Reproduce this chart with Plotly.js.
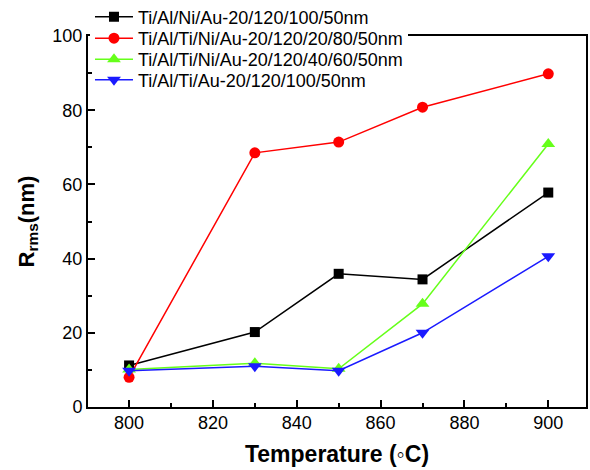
<!DOCTYPE html>
<html>
<head>
<meta charset="utf-8">
<script src="https://cdn.plot.ly/plotly-3.0.1.min.js"></script>
<style>html,body{margin:0;padding:0;background:#fff;}#chart{width:590px;height:470px;}</style>
</head>
<body>
<div id="chart"></div>
<script>
const temperatures = [800, 830, 850, 870, 900];
const seriesNames = [
  "Ti/Al/Ni/Au-20/120/100/50nm",
  "Ti/Al/Ti/Ni/Au-20/120/20/80/50nm",
  "Ti/Al/Ti/Ni/Au-20/120/40/60/50nm",
  "Ti/Al/Ti/Au-20/120/100/50nm"
];
const rmsTiAlNiAu = [11.2, 20.2, 35.9, 34.4, 57.8];
const rmsTiAlTiNiAu_20_80 = [8.0, 68.5, 71.4, 80.8, 89.8];
const rmsTiAlTiNiAu_40_60 = [10.1, 11.8, 10.3, 27.8, 70.9];
const rmsTiAlTiAu = [9.8, 11.0, 9.8, 20.0, 40.6];
const xTickVals = [800, 820, 840, 860, 880, 900];
const yTickVals = [0, 20, 40, 60, 80, 100];

const colors = ["#000000", "#ff0000", "#66ff1a", "#1a1aff"];
const symbols = ["square", "circle", "triangle-up", "triangle-down"];
const sizes = [10, 11, 12, 12];
const ys = [rmsTiAlNiAu, rmsTiAlTiNiAu_20_80, rmsTiAlTiNiAu_40_60, rmsTiAlTiAu];
// each entry gets its own legend so the row spacing matches the reference
const legendIds = ["legend2", "legend", "legend3", "legend4"];
const legendRowPx = [17, 38.5, 59.5, 80];

const traces = ys.map((y, i) => ({
  x: temperatures, y: y, name: seriesNames[i], type: "scatter", mode: "lines+markers",
  legend: legendIds[i],
  line: {color: colors[i], width: 1.5},
  marker: {color: colors[i], symbol: symbols[i], size: sizes[i], line: {width: 0}}
}));

const FONT = "Liberation Sans, Arial, sans-serif";
const axisFont = {family: FONT, size: 18, color: "#000"};
const plotTop = 36, plotH = 371;
const layout = {
  width: 590, height: 470,
  margin: {l: 88, r: 4, t: plotTop, b: 470 - plotTop - plotH, autoexpand: false},
  paper_bgcolor: "#fff", plot_bgcolor: "#fff",
  font: {family: FONT, color: "#000"},
  showlegend: true,
  xaxis: {
    range: [790.2, 909], tickvals: xTickVals, ticktext: xTickVals.map(String),
    ticks: "inside", ticklen: 7, tickwidth: 2, tickcolor: "#000",
    minor: {dtick: 10, ticks: "inside", ticklen: 4, tickwidth: 2, tickcolor: "#000"},
    showline: true, linewidth: 2, linecolor: "#000", mirror: true,
    showgrid: false, zeroline: false, tickfont: axisFont, ticklabelstandoff: -2,
    title: {text: "Temperature (◦C)", font: {family: FONT, size: 23, color: "#000", weight: "bold"}, standoff: 14}
  },
  yaxis: {
    range: [0, 100], tickvals: yTickVals, ticktext: yTickVals.map(String),
    ticks: "inside", ticklen: 7, tickwidth: 2, tickcolor: "#000",
    minor: {dtick: 10, ticks: "inside", ticklen: 4, tickwidth: 2, tickcolor: "#000"},
    showline: true, linewidth: 2, linecolor: "#000", mirror: true,
    showgrid: false, zeroline: false, tickfont: axisFont,
    title: {text: "<b>R<sub>rms</sub>(nm)</b>", font: {family: FONT, size: 22, color: "#000"}, standoff: 12}
  }
};
legendIds.forEach((id, i) => {
  layout[id] = {
    x: 0.004, y: 1 + (plotTop - legendRowPx[i]) / plotH, xanchor: "left", yanchor: "middle",
    bgcolor: id === "legend" ? "rgba(255,255,255,1)" : "rgba(255,255,255,0)", borderwidth: 0,
    font: {family: FONT, size: 18, color: "#000"}, itemwidth: 38
  };
});
Plotly.newPlot("chart", traces, layout, {displayModeBar: false, staticPlot: true});
</script>
</body>
</html>
